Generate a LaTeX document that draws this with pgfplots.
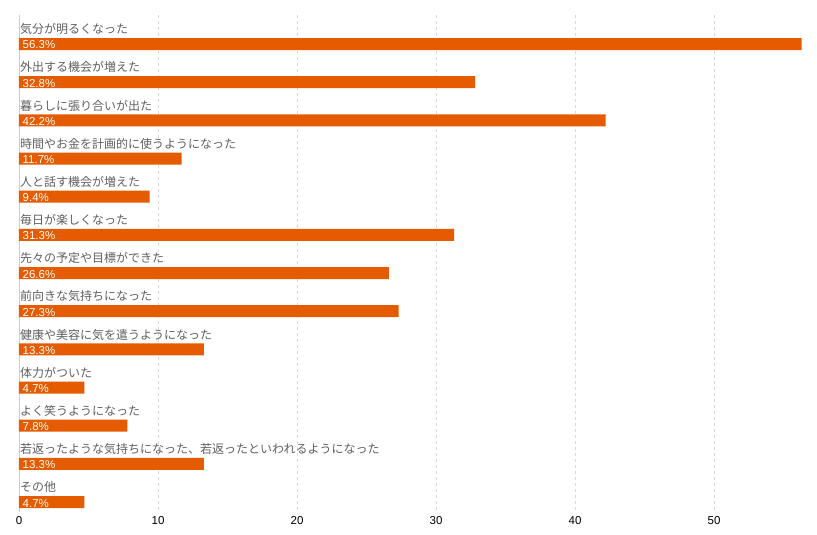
\documentclass[border=0pt]{standalone}
\usepackage{pgfplots}
\pgfplotsset{compat=1.18}
\usepackage{pgfplotstable}
\usepackage{fontspec}
\setmainfont{Liberation Sans}
\newfontfamily\jp{Noto Sans CJK JP}
\definecolor{barorange}{RGB}{229,91,0}
\definecolor{labelgray}{RGB}{95,95,95}

% idx: position from the top, val: share of answers in percent
\pgfplotstableread{
idx val base name
0 56.3 0 気分が明るくなった
1 32.8 0 外出する機会が増えた
2 42.2 0 暮らしに張り合いが出た
3 11.7 0 時間やお金を計画的に使うようになった
4 9.4 0 人と話す機会が増えた
5 31.3 0 毎日が楽しくなった
6 26.6 0 先々の予定や目標ができた
7 27.3 0 前向きな気持ちになった
8 13.3 0 健康や美容に気を遣うようになった
9 4.7 0 体力がついた
10 7.8 0 よく笑うようになった
11 13.3 0 若返ったような気持ちになった、若返ったといわれるようになった
12 4.7 0 その他
}\answers

\begin{document}
\begin{tikzpicture}
\useasboundingbox (-19pt,-23pt) rectangle (798pt,512pt);
\begin{axis}[
  at={(0,0)}, anchor=south west,
  scale only axis, width=798pt, height=497pt,
  xmin=0, xmax=57.4,
  ymin=-0.76, ymax=12.26, y dir=reverse,
  ytick=\empty,
  xtick={0,10,...,50},
  xmajorgrids, grid style={dashed, gray!30},
  major tick length=0pt,
  axis line style={draw=none},
  extra x ticks={0}, extra x tick labels={},
  extra x tick style={grid style={solid, gray!40}},
  /pgf/number format/assume math mode=true,
  xticklabel style={font=\fontsize{11.5}{11.5}\selectfont, text=black, yshift=-1pt},
  clip=false,
]
  \addplot[xbar, bar width=12pt, fill=barorange, draw=none]
    table[x=val, y=idx] {\answers};
  \addplot[draw=none, mark=none, point meta=explicit,
    nodes near coords={\pgfmathprintnumber[fixed,fixed zerofill,precision=1]{\pgfplotspointmeta}\%},
    nodes near coords style={anchor=west, text=white, inner sep=0pt,
      font=\fontsize{11.5}{11.5}\selectfont, xshift=3.5pt, yshift=-1pt}]
    table[x=base, y=idx, meta=val] {\answers};
  \addplot[draw=none, mark=none, point meta=explicit symbolic,
    nodes near coords,
    nodes near coords style={anchor=south west, text=labelgray, inner sep=0pt,
      font=\jp\fontsize{12}{12}\selectfont, xshift=1pt, yshift=9pt}]
    table[x=base, y=idx, meta=name] {\answers};
\end{axis}
\end{tikzpicture}
\end{document}
